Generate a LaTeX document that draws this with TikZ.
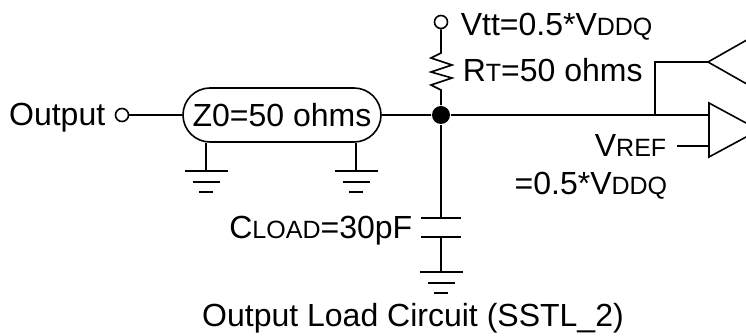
\documentclass[tikz,border=0pt]{standalone}
\usepackage{fontspec}
\setmainfont{Liberation Sans}
\usepackage{tikz}
\usetikzlibrary{shapes.misc,calc}
\newcommand\smcap[1]{{\fontsize{12.5}{15}\selectfont #1}}
\tikzset{
  gnd/.pic={
    \draw (-21.5,0) -- (21.5,0);
    \draw (-13.5,11) -- (13.5,11);
    \draw (-7,21) -- (7,21);
  }
}
\begin{document}
\begin{tikzpicture}[x=0.5pt, y=-0.5pt, line width=0.8pt,
    lbl/.style={font=\fontsize{16}{19}\selectfont, inner sep=0pt},
    term/.style={circle, draw, line width=0.8pt, minimum size=6.5pt, inner sep=0pt},
    junc/.style={circle, fill, minimum size=9pt, inner sep=0pt},
    tline/.style={rounded rectangle, draw, minimum width=99pt, minimum height=27pt, inner sep=0pt, font=\fontsize{16}{19}\selectfont}]
    \useasboundingbox (0,0) rectangle (746,336);

    % Source and line
    \node[lbl, anchor=base east] (outtxt) at (106,126) {Output};
    \node[term] (outpin) at (122,115) {};
    \node[tline] (zline) at (282,115) {Z0=50 ohms};
    \node[junc] (jn) at (441,115) {};
    \draw (outpin) -- (zline);
    \draw (zline) -- (jn);

    % Line grounds
    \coordinate (g1) at (206,171);
    \coordinate (g2) at (356,171);
    \draw (g1 |- zline.south) -- (g1);
    \draw (g2 |- zline.south) -- (g2);
    \pic at (g1) {gnd};
    \pic at (g2) {gnd};

    % Termination
    \node[term] (vtt) at (441,22) {};
    \node[lbl, anchor=base west] (vtttxt) at (460,36) {Vtt=0.5*V\smcap{DDQ}};
    \coordinate (rtop) at (441,53);
    \coordinate (rbot) at (441,90);
    \draw (vtt) -- (rtop) -- ++(-10,5) -- ++(21,7) -- ++(-21,7) -- ++(21,6) -- ++(-21,7) -- (rbot) -- (jn);
    \node[lbl, anchor=base west] (rttxt) at (462,82) {R\smcap{T}=50 ohms};

    % Receiver
    \coordinate (tap) at (655,115);
    \coordinate (rxtip) at (708,62);
    \coordinate (inp) at (709,115);
    \coordinate (inn) at (709,146);
    \coordinate (vrefend) at (677,146);
    \draw (jn) -- (inp);
    \draw (tap) |- (rxtip);
    \draw (vrefend) -- (inn);
    \begin{scope}
        \clip (0,0) rectangle (746,336);
        \draw (775,24) -- (rxtip) -- (775,100);
        \draw (709,103) -- (759,130) -- (709,157) -- cycle;
    \end{scope}
    \node[lbl, anchor=base east] (vreftxt) at (667,157) {V\smcap{REF}};
    \node[lbl, anchor=base east] (vrefval) at (668,195) {=0.5*V\smcap{DDQ}};

    % Load capacitor
    \coordinate (ctop) at (441,218);
    \coordinate (cbot) at (441,237);
    \coordinate (g3) at (441,272);
    \draw (jn) -- (ctop);
    \draw ($(ctop)+(-20,0)$) -- ($(ctop)+(20,0)$);
    \draw ($(cbot)+(-20,0)$) -- ($(cbot)+(20,0)$);
    \draw (cbot) -- (g3);
    \pic at (g3) {gnd};
    \node[lbl, anchor=base east] (cltxt) at (413,239) {C\smcap{LOAD}=30pF};

    % Title
    \node[lbl, anchor=base] (title) at (413,327) {Output Load Circuit (SSTL\_2)};
\end{tikzpicture}
\end{document}
